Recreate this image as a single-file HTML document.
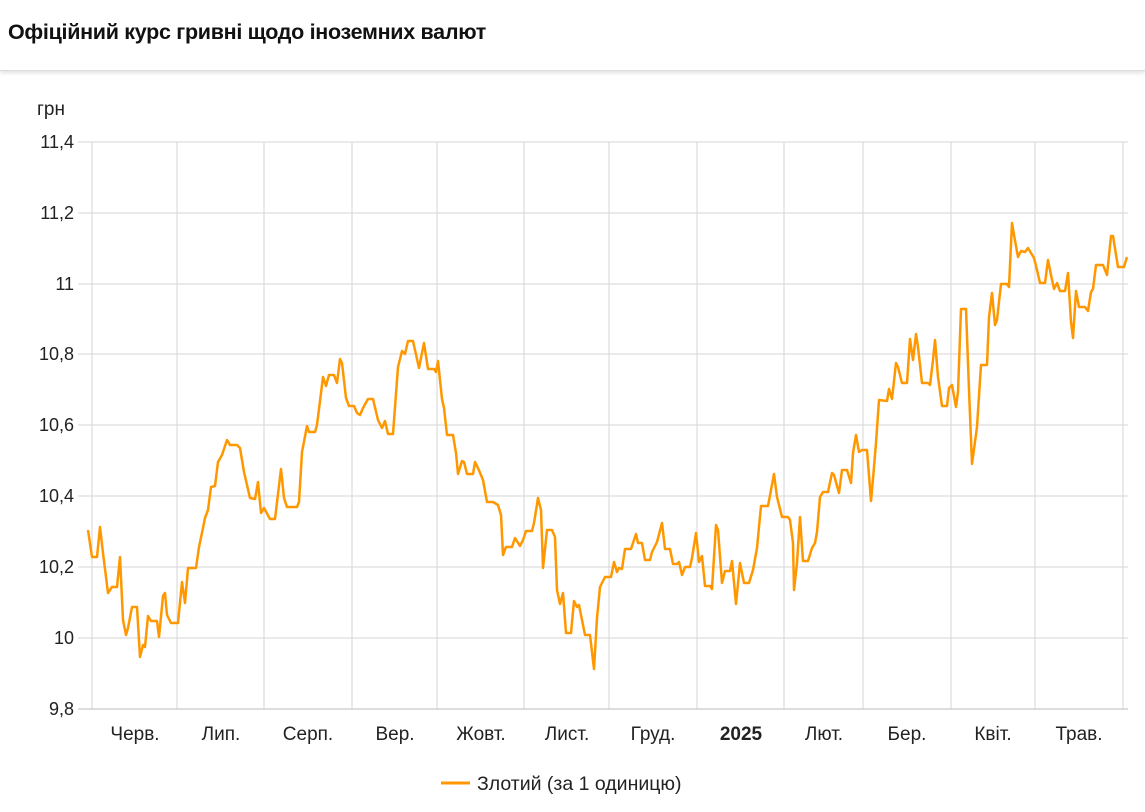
<!DOCTYPE html>
<html><head><meta charset="utf-8"><style>
body{margin:0;width:1145px;height:812px;background:#fff;font-family:"Liberation Sans",sans-serif;overflow:hidden;position:relative}
.hdr{position:absolute;left:0;top:0;width:1145px;height:70px;border-bottom:1px solid #ddd;box-shadow:0 2px 4px rgba(0,0,0,0.12)}
.hdr div{position:absolute;left:8px;top:20px;font-size:21.5px;font-weight:bold;color:#111;letter-spacing:-0.3px}
</style></head><body>
<div class="hdr"><div>Офіційний курс гривні щодо іноземних валют</div></div>
<svg width="1145" height="812" style="position:absolute;left:0;top:0" font-family="Liberation Sans, sans-serif">
<g stroke="#d6d6d6" stroke-width="1">
<line x1="78" y1="142" x2="1128" y2="142"/><line x1="78" y1="213" x2="1128" y2="213"/><line x1="78" y1="284" x2="1128" y2="284"/><line x1="78" y1="354" x2="1128" y2="354"/><line x1="78" y1="425" x2="1128" y2="425"/><line x1="78" y1="496" x2="1128" y2="496"/><line x1="78" y1="567" x2="1128" y2="567"/><line x1="78" y1="638" x2="1128" y2="638"/>
<line x1="92" y1="142" x2="92" y2="709"/><line x1="177" y1="142" x2="177" y2="709"/><line x1="264" y1="142" x2="264" y2="709"/><line x1="352" y1="142" x2="352" y2="709"/><line x1="437" y1="142" x2="437" y2="709"/><line x1="524" y1="142" x2="524" y2="709"/><line x1="609" y1="142" x2="609" y2="709"/><line x1="697" y1="142" x2="697" y2="709"/><line x1="784" y1="142" x2="784" y2="709"/><line x1="863" y1="142" x2="863" y2="709"/><line x1="951" y1="142" x2="951" y2="709"/><line x1="1035" y1="142" x2="1035" y2="709"/><line x1="1123" y1="142" x2="1123" y2="709"/>
</g>
<line x1="78" y1="709" x2="1128" y2="709" stroke="#bbb" stroke-width="1"/>
<g font-size="18" fill="#222" text-anchor="end">
<text x="74" y="148">11,4</text><text x="74" y="219">11,2</text><text x="74" y="290">11</text><text x="74" y="360">10,8</text><text x="74" y="431">10,6</text><text x="74" y="502">10,4</text><text x="74" y="573">10,2</text><text x="74" y="644">10</text><text x="74" y="715">9,8</text>
</g>
<text x="37" y="115" font-size="19" fill="#222">грн</text>
<g font-size="19" fill="#222" text-anchor="middle">
<text x="135" y="740">Черв.</text><text x="221" y="740">Лип.</text><text x="308" y="740">Серп.</text><text x="395" y="740">Вер.</text><text x="481" y="740">Жовт.</text><text x="567" y="740">Лист.</text><text x="653" y="740">Груд.</text><text x="741" y="740" font-weight="bold">2025</text><text x="824" y="740">Лют.</text><text x="907" y="740">Бер.</text><text x="993" y="740">Квіт.</text><text x="1079" y="740">Трав.</text>
</g>
<polyline fill="none" stroke="#ff9800" stroke-width="2.5" stroke-linejoin="round" points="88,530 92,557 97,557 100,527 103,553 108,593 112,587 117,587 120,557 123,620 126,635 128,628 132,607 137,607 140,657 143,645 145,647 148,616 151,621 157,621 159,637 163,596 165,593 167,615 171,623 178,623 182,582 185,603 188,568 196,568 199,547 203,528 205,518 208,510 211,487 215,486 218,462 222,455 227,440 230,445 237,445 240,448 244,472 250,498 255,499 258,482 261,513 264,508 270,519 275,519 281,469 284,498 287,507 297,507 299,502 302,452 307,426 309,432 315,432 317,425 323,377 326,386 329,375 334,375 337,383 340,359 342,363 346,398 349,406 354,406 357,413 360,415 363,408 368,399 373,399 378,420 382,428 385,421 388,434 393,434 398,367 402,351 405,354 408,341 413,341 419,368 424,343 428,369 434,369 436,372 438,361 442,399 444,408 447,435 453,435 456,453 458,474 462,461 464,462 467,474 473,474 475,462 478,468 483,480 487,502 493,502 498,505 501,515 503,555 506,547 512,547 515,538 520,546 523,540 526,531 532,531 534,523 538,498 541,510 543,568 547,530 552,530 555,537 557,590 560,604 563,593 566,633 571,633 574,601 577,607 579,605 585,635 590,635 594,669 597,618 600,587 605,577 611,577 614,562 617,572 619,568 622,569 625,549 631,549 636,534 638,543 642,543 645,560 650,560 652,552 657,542 662,523 665,549 670,549 673,564 677,564 679,562 682,575 685,567 690,567 692,558 696,533 699,562 702,556 705,586 710,586 712,589 716,525 718,530 722,583 725,571 730,571 732,561 736,604 740,563 744,583 749,583 753,570 757,548 761,506 768,506 774,474 777,497 782,517 788,517 790,520 793,543 794,590 797,563 800,517 803,561 808,561 812,548 815,543 817,532 820,497 823,492 828,492 832,473 834,475 839,493 842,470 847,470 851,483 853,453 856,435 859,452 862,450 867,450 871,501 873,479 876,443 879,400 887,401 889,389 892,399 896,363 898,367 902,383 907,383 910,339 913,360 916,334 918,347 922,383 928,383 930,385 933,360 935,340 938,377 942,406 947,406 949,388 952,385 956,407 958,392 961,309 966,309 969,390 972,464 977,427 981,365 987,365 989,317 992,293 995,325 997,320 1001,284 1007,284 1009,287 1012,223 1014,235 1018,257 1021,251 1025,252 1028,248 1034,258 1037,270 1040,283 1045,283 1048,260 1051,275 1054,289 1057,283 1060,291 1065,291 1068,273 1071,322 1073,338 1076,291 1079,307 1085,307 1088,311 1091,292 1093,289 1096,265 1103,265 1107,275 1111,236 1113,236 1118,267 1124,267 1127,257"/>
<line x1="441" y1="783" x2="470" y2="783" stroke="#ff9800" stroke-width="3"/>
<text x="477" y="790" font-size="19.5" fill="#222">Злотий (за 1 одиницю)</text>
</svg>
</body></html>
